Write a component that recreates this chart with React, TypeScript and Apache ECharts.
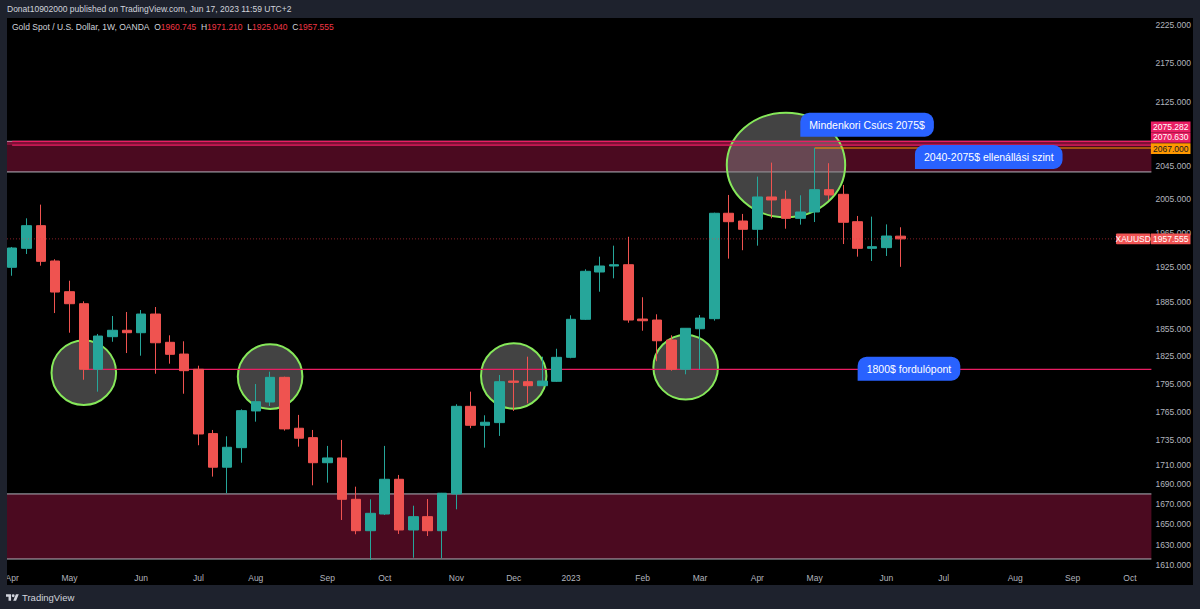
import React, { useEffect, useRef } from "react";
import * as echarts from "echarts";

// ---------- DATA ----------
const weeks = [
  "2022-04-04", "2022-04-11", "2022-04-18", "2022-04-25",
  "2022-05-02", "2022-05-09", "2022-05-16", "2022-05-23", "2022-05-30",
  "2022-06-06", "2022-06-13", "2022-06-20", "2022-06-27",
  "2022-07-04", "2022-07-11", "2022-07-18", "2022-07-25",
  "2022-08-01", "2022-08-08", "2022-08-15", "2022-08-22", "2022-08-29",
  "2022-09-05", "2022-09-12", "2022-09-19", "2022-09-26",
  "2022-10-03", "2022-10-10", "2022-10-17", "2022-10-24", "2022-10-31",
  "2022-11-07", "2022-11-14", "2022-11-21", "2022-11-28",
  "2022-12-05", "2022-12-12", "2022-12-19", "2022-12-26",
  "2023-01-02", "2023-01-09", "2023-01-16", "2023-01-23", "2023-01-30",
  "2023-02-06", "2023-02-13", "2023-02-20", "2023-02-27",
  "2023-03-06", "2023-03-13", "2023-03-20", "2023-03-27",
  "2023-04-03", "2023-04-10", "2023-04-17", "2023-04-24",
  "2023-05-01", "2023-05-08", "2023-05-15", "2023-05-22", "2023-05-29",
  "2023-06-05", "2023-06-12", "2023-06-19", "2023-06-26",
  "2023-07-03", "2023-07-10", "2023-07-17", "2023-07-24", "2023-07-31",
  "2023-08-07", "2023-08-14", "2023-08-21", "2023-08-28",
  "2023-09-04", "2023-09-11", "2023-09-18", "2023-09-25",
  "2023-10-02", "2023-10-09",
];

const open = [
  1924.5, 1946.5, 1973.1, 1931.8, 1896.6, 1883.0, 1810.5, 1846.2, 1853.3, 1850.6,
  1871.4, 1840.0, 1827.1, 1810.5, 1742.1, 1707.4, 1727.5, 1765.9, 1775.4, 1801.8,
  1747.7, 1737.9, 1712.0, 1716.9, 1674.9, 1643.7, 1660.2, 1695.1, 1644.4, 1657.6,
  1643.7, 1680.3, 1770.8, 1750.8, 1753.6, 1797.8, 1797.1, 1792.8, 1797.5, 1823.5,
  1865.5, 1919.1, 1926.0, 1927.5, 1865.8, 1864.7, 1842.5, 1810.5, 1855.0, 1866.2,
  1987.8, 1978.6, 1968.8, 2007.3, 2004.5, 1981.8, 1989.3, 2016.1, 2010.5, 1977.8,
  1946.5, 1947.3, 1960.745,
];
const high = [
  1948.1, 1981.8, 1998.1, 1933.8, 1909.1, 1885.7, 1849.2, 1869.2, 1873.7, 1875.9,
  1879.3, 1847.7, 1841.1, 1814.4, 1745.9, 1739.3, 1767.6, 1794.6, 1807.9, 1802.5,
  1761.7, 1745.9, 1729.3, 1735.5, 1687.6, 1674.9, 1729.3, 1699.5, 1668.5, 1675.2,
  1681.3, 1773.0, 1786.4, 1761.3, 1804.3, 1809.8, 1824.2, 1824.2, 1832.9, 1870.0,
  1922.2, 1936.8, 1949.6, 1960.0, 1890.3, 1871.1, 1847.7, 1855.5, 1870.3, 1988.5,
  2009.7, 1987.0, 2031.9, 2049.0, 2015.1, 2009.3, 2067.0, 2048.3, 2021.8, 1984.6,
  1983.8, 1974.6, 1971.210,
];
const low = [
  1914.8, 1939.9, 1926.4, 1872.5, 1850.6, 1799.2, 1786.4, 1840.6, 1828.2, 1825.3,
  1805.7, 1816.6, 1784.2, 1730.0, 1697.8, 1681.0, 1712.0, 1754.6, 1771.1, 1745.2,
  1728.5, 1689.0, 1691.7, 1654.3, 1640.2, 1615.1, 1659.2, 1640.5, 1617.3, 1638.5,
  1616.7, 1664.9, 1747.7, 1727.5, 1739.7, 1765.9, 1774.0, 1792.8, 1796.8, 1822.5,
  1864.7, 1896.6, 1911.9, 1861.7, 1852.8, 1819.2, 1809.0, 1805.1, 1810.5, 1864.0,
  1934.5, 1944.3, 1949.6, 1981.8, 1969.5, 1974.3, 1977.4, 2003.7, 1951.5, 1936.8,
  1931.8, 1937.6, 1925.040,
];
const close = [
  1946.9, 1973.1, 1931.4, 1896.2, 1883.0, 1810.5, 1846.9, 1853.3, 1850.6, 1871.4,
  1839.5, 1826.8, 1809.0, 1741.7, 1707.4, 1727.9, 1766.2, 1775.7, 1801.8, 1747.0,
  1737.3, 1712.0, 1716.9, 1674.9, 1643.7, 1660.9, 1695.1, 1644.4, 1657.6, 1643.7,
  1681.0, 1770.8, 1750.8, 1754.0, 1797.1, 1796.4, 1792.8, 1797.8, 1823.5, 1865.5,
  1919.9, 1926.0, 1927.5, 1864.7, 1863.9, 1841.7, 1810.5, 1855.5, 1866.9, 1987.8,
  1977.8, 1968.8, 2007.3, 2003.7, 1981.8, 1989.3, 2016.1, 2009.7, 1977.1, 1946.5,
  1948.4, 1960.9, 1957.555,
];

const priceTicks = [
  2225, 2175, 2125, 2045, 2005, 1965, 1925, 1885, 1855, 1825, 1795, 1765, 1735,
  1710, 1690, 1670, 1650, 1630, 1610,
];
const priceMin = 1607.4;
const priceMax = 2234.35;

// zones: [x, low, high, drawBorders]
const zones = [
  [0, 2037.6, 2075.282, 1],
  [0, 2070.63, 2075.282, 0],
  [0, 1616.1, 1680.3, 1],
];
// level lines: [start week index, price, colour kind]
const levels = [
  [-0.5, 2075.282, 0],
  [-0.5, 2070.63, 0],
  [5, 1810.5, 0],
  [56, 2067.0, 1],
];
// circles: [week index, price]
const circleAnchors = [
  [5.0, 1806.8],
  [18.04, 1802.6],
  [35.04, 1803.3],
  [47.07, 1812.7],
  [54.06, 2046.1],
];
const calloutTexts = [
  "Mindenkori Csúcs 2075$",
  "2040-2075$ ellenállási szint",
  "1800$ fordulópont",
];
// callouts anchored at bottom-left: [week index, price]
const calloutAnchors = [
  [55.4, 2081.0],
  [63.05, 2041.2],
  [59.05, 1798.2],
];
// price tags on the axis: [x, price, style kind]
const axisTags = [
  [0, 2075.282, 0],
  [0, 2070.63, 1],
  [0, 2067.0, 2],
];
const symbolName = "XAUUSD";
const titleText = "Gold Spot / U.S. Dollar, 1W, OANDA";
const publishText = "Donat10902000 published on TradingView.com, Jun 17, 2023 11:59 UTC+2";
const monthNames = ["Jan", "Feb", "Mar", "Apr", "May", "Jun", "Jul", "Aug", "Sep", "Oct", "Nov", "Dec"];

// ---------- STYLES ----------
const FONT = '"Liberation Sans", Arial, sans-serif';
const FRAME = "#1e222d";
const UP = "#26a69a";
const DOWN = "#ef5350";
const AXIS_TEXT = "#b2b5be";
const levelColors = ["#e91e63", "#ff9800"];
const circleRadii = [
  [32.3, 32.3],
  [32.3, 32.3],
  [32.7, 32.7],
  [32.3, 32.3],
  [59.2, 52.3],
];
const tagStyles = [
  { bg: "#e91e63", fg: "#ffffff", dy: -14.6 },
  { bg: "#e91e63", fg: "#ffffff", dy: -7.6 },
  { bg: "#ff9800", fg: "#131722", dy: 0.6 },
];

const TV_LOGO =
  "M14 22H7V11H0V4h14v18zM28 22h-8l7.5-18h8L28 22zM24 8a4 4 0 1 1-8 0a4 4 0 1 1 8 0z";
echarts.graphic.registerShape("tvlogo", echarts.graphic.extendPath(TV_LOGO, {}));

function monthOf(s: string) {
  return Number(s.slice(5, 7)) - 1;
}

export default function App() {
  const ref = useRef<HTMLDivElement>(null);

  useEffect(() => {
    if (!ref.current) return;
    const chart = echarts.init(ref.current, undefined, { renderer: "svg" });

    const candleData = open.map((o, i) => [o, close[i], low[i], high[i]]);
    const last = open.length - 1;
    const f3 = (v: number) => v.toFixed(3);

    const headerRich =
      `{l|${titleText}}  {l|O}{v|${f3(open[last])}}  {l|H}{v|${f3(high[last])}}  ` +
      `{l|L}{v|${f3(low[last])}}  {l|C}{v|${f3(close[last])}}`;

    const option: any = {
      animation: false,
      backgroundColor: "transparent",
      grid: { left: 5, top: 18, width: 1146.4, height: 550, containLabel: false },
      xAxis: {
        type: "category",
        data: weeks,
        boundaryGap: true,
        axisLine: { show: false },
        axisTick: { show: false },
        splitLine: { show: false },
        axisLabel: {
          color: AXIS_TEXT,
          fontSize: 8.5,
          fontFamily: FONT,
          margin: 5,
          interval: (index: number) =>
            index === 0 || monthOf(weeks[index]) !== monthOf(weeks[index - 1]),
          formatter: (value: string) => {
            const m = monthOf(value);
            return m === 0 ? value.slice(0, 4) : monthNames[m];
          },
        },
      },
      yAxis: {
        type: "log",
        logBase: 10,
        min: priceMin,
        max: priceMax,
        position: "right",
        axisLine: { show: false },
        axisTick: { show: false },
        splitLine: { show: false },
        minorTick: { show: false },
        axisLabel: {
          customValues: priceTicks,
          color: AXIS_TEXT,
          fontSize: 8.5,
          fontFamily: FONT,
          margin: 4,
          formatter: (v: number) => Number(v).toFixed(3),
        },
      },
      graphic: [
        {
          type: "rect",
          z: 100,
          shape: { x: 0, y: 18, width: 7, height: 567 },
          style: { fill: FRAME },
        },
        {
          type: "text",
          x: 7,
          y: 9,
          style: {
            text: publishText,
            fill: "#d1d4dc",
            font: `8.5px ${FONT}`,
            verticalAlign: "middle",
          },
        },
        {
          type: "text",
          x: 12,
          y: 27,
          style: {
            text: headerRich,
            verticalAlign: "middle",
            font: `8.5px ${FONT}`,
            rich: {
              l: { fill: "#d1d4dc", font: `8.5px ${FONT}` },
              v: { fill: "#f23645", font: `8.5px ${FONT}` },
            },
          },
        },
        {
          type: "tvlogo",
          x: 6,
          y: 592.9,
          scaleX: 0.36,
          scaleY: 0.36,
          style: { fill: "#d1d4dc" },
        },
        {
          type: "text",
          x: 22,
          y: 597,
          style: {
            text: "TradingView",
            fill: "#d1d4dc",
            font: `9.5px ${FONT}`,
            verticalAlign: "middle",
          },
        },
      ],
      series: [
        {
          type: "custom",
          name: "zones",
          z: 1,
          clip: false,
          silent: true,
          data: zones,
          renderItem: (params: any, api: any) => {
            const cs = params.coordSys;
            const yTop = api.coord([0, api.value(2)])[1];
            const yBot = api.coord([0, api.value(1)])[1];
            const children: any[] = [
              {
                type: "rect",
                shape: { x: cs.x, y: yTop, width: cs.width, height: yBot - yTop },
                style: { fill: "rgba(233,30,99,0.32)" },
              },
            ];
            if (api.value(3)) {
              children.push(
                {
                  type: "line",
                  shape: { x1: cs.x, y1: yTop, x2: cs.x + cs.width, y2: yTop },
                  style: { stroke: "#b2b5be", lineWidth: 1 },
                },
                {
                  type: "line",
                  shape: { x1: cs.x, y1: yBot, x2: cs.x + cs.width, y2: yBot },
                  style: { stroke: "#b2b5be", lineWidth: 1 },
                }
              );
            }
            return { type: "group", children };
          },
        },
        {
          type: "custom",
          name: "circles",
          z: 2,
          clip: false,
          silent: true,
          data: circleAnchors,
          renderItem: (params: any, api: any) => {
            const c = api.coord([api.value(0), api.value(1)]);
            const r = circleRadii[params.dataIndex];
            return {
              type: "ellipse",
              shape: { cx: c[0], cy: c[1], rx: r[0], ry: r[1] },
              style: {
                fill: "rgba(128,128,128,0.52)",
                stroke: "#86e85a",
                lineWidth: 2,
              },
            };
          },
        },
        {
          type: "custom",
          name: "levels",
          z: 3,
          clip: false,
          silent: true,
          data: levels,
          renderItem: (params: any, api: any) => {
            const cs = params.coordSys;
            const p = api.coord([api.value(0), api.value(1)]);
            return {
              type: "line",
              shape: { x1: p[0], y1: p[1], x2: cs.x + cs.width, y2: p[1] },
              style: { stroke: levelColors[api.value(2)], lineWidth: 1.2 },
            };
          },
        },
        {
          type: "candlestick",
          name: symbolName,
          z: 4,
          barWidth: 10,
          data: candleData,
          itemStyle: {
            color: UP,
            color0: DOWN,
            borderColor: UP,
            borderColor0: DOWN,
            borderWidth: 1,
          },
        },
        {
          type: "custom",
          name: "lastPrice",
          z: 5,
          clip: false,
          silent: true,
          data: [[last, close[last]]],
          renderItem: (params: any, api: any) => {
            const cs = params.coordSys;
            const y = api.coord([0, api.value(1)])[1];
            const right = cs.x + cs.width;
            return {
              type: "group",
              children: [
                {
                  type: "line",
                  shape: { x1: 7, y1: y, x2: right - 35, y2: y },
                  style: { stroke: "rgba(242,54,69,0.55)", lineWidth: 1, lineDash: [1, 2] },
                },
                {
                  type: "rect",
                  shape: { x: right - 35.4, y: y - 5.3, width: 34.4, height: 10.6, r: 1 },
                  style: { fill: "#f05454" },
                },
                {
                  type: "text",
                  x: right - 18.2,
                  y: y,
                  style: {
                    text: symbolName,
                    fill: "#ffffff",
                    font: `8.5px ${FONT}`,
                    align: "center",
                    verticalAlign: "middle",
                  },
                },
                {
                  type: "rect",
                  shape: { x: right - 0.5, y: y - 5.3, width: 39.6, height: 10.6 },
                  style: { fill: "#f05454" },
                },
                {
                  type: "text",
                  x: right + 19.3,
                  y: y,
                  style: {
                    text: f3(api.value(1)),
                    fill: "#ffffff",
                    font: `8.5px ${FONT}`,
                    align: "center",
                    verticalAlign: "middle",
                  },
                },
              ],
            };
          },
        },
        {
          type: "custom",
          name: "axisTags",
          z: 5,
          clip: false,
          silent: true,
          data: axisTags,
          renderItem: (params: any, api: any) => {
            const cs = params.coordSys;
            const st = tagStyles[api.value(2)];
            const y = api.coord([0, api.value(1)])[1] + st.dy;
            const right = cs.x + cs.width;
            return {
              type: "group",
              children: [
                {
                  type: "rect",
                  shape: { x: right - 0.5, y: y - 5.3, width: 39.6, height: 10.6 },
                  style: { fill: st.bg },
                },
                {
                  type: "text",
                  x: right + 19.3,
                  y: y,
                  style: {
                    text: f3(api.value(1)),
                    fill: st.fg,
                    font: `8.5px ${FONT}`,
                    align: "center",
                    verticalAlign: "middle",
                  },
                },
              ],
            };
          },
        },
        {
          type: "custom",
          name: "callouts",
          z: 6,
          clip: false,
          silent: true,
          data: calloutAnchors,
          renderItem: (params: any, api: any) => {
            const c = api.coord([api.value(0), api.value(1)]);
            return {
              type: "text",
              x: c[0],
              y: c[1],
              style: {
                text: calloutTexts[params.dataIndex],
                fill: "#ffffff",
                font: `10.5px ${FONT}`,
                backgroundColor: "#2962ff",
                padding: [7, 9, 6, 9],
                borderRadius: [9, 9, 9, 0],
                align: "left",
                verticalAlign: "bottom",
              },
            };
          },
        },
      ],
    };

    chart.setOption(option);
    return () => chart.dispose();
  }, []);

  return (
    <div
      style={{
        position: "fixed",
        left: 0,
        top: 0,
        width: 1200,
        height: 609,
        background: FRAME,
        overflow: "hidden",
      }}
    >
      <div
        style={{
          position: "absolute",
          left: 7,
          top: 18,
          width: 1186,
          height: 567,
          background: "#000000",
        }}
      />
      <div
        ref={ref}
        style={{ position: "absolute", left: 0, top: 0, width: 1200, height: 609 }}
      />
    </div>
  );
}
